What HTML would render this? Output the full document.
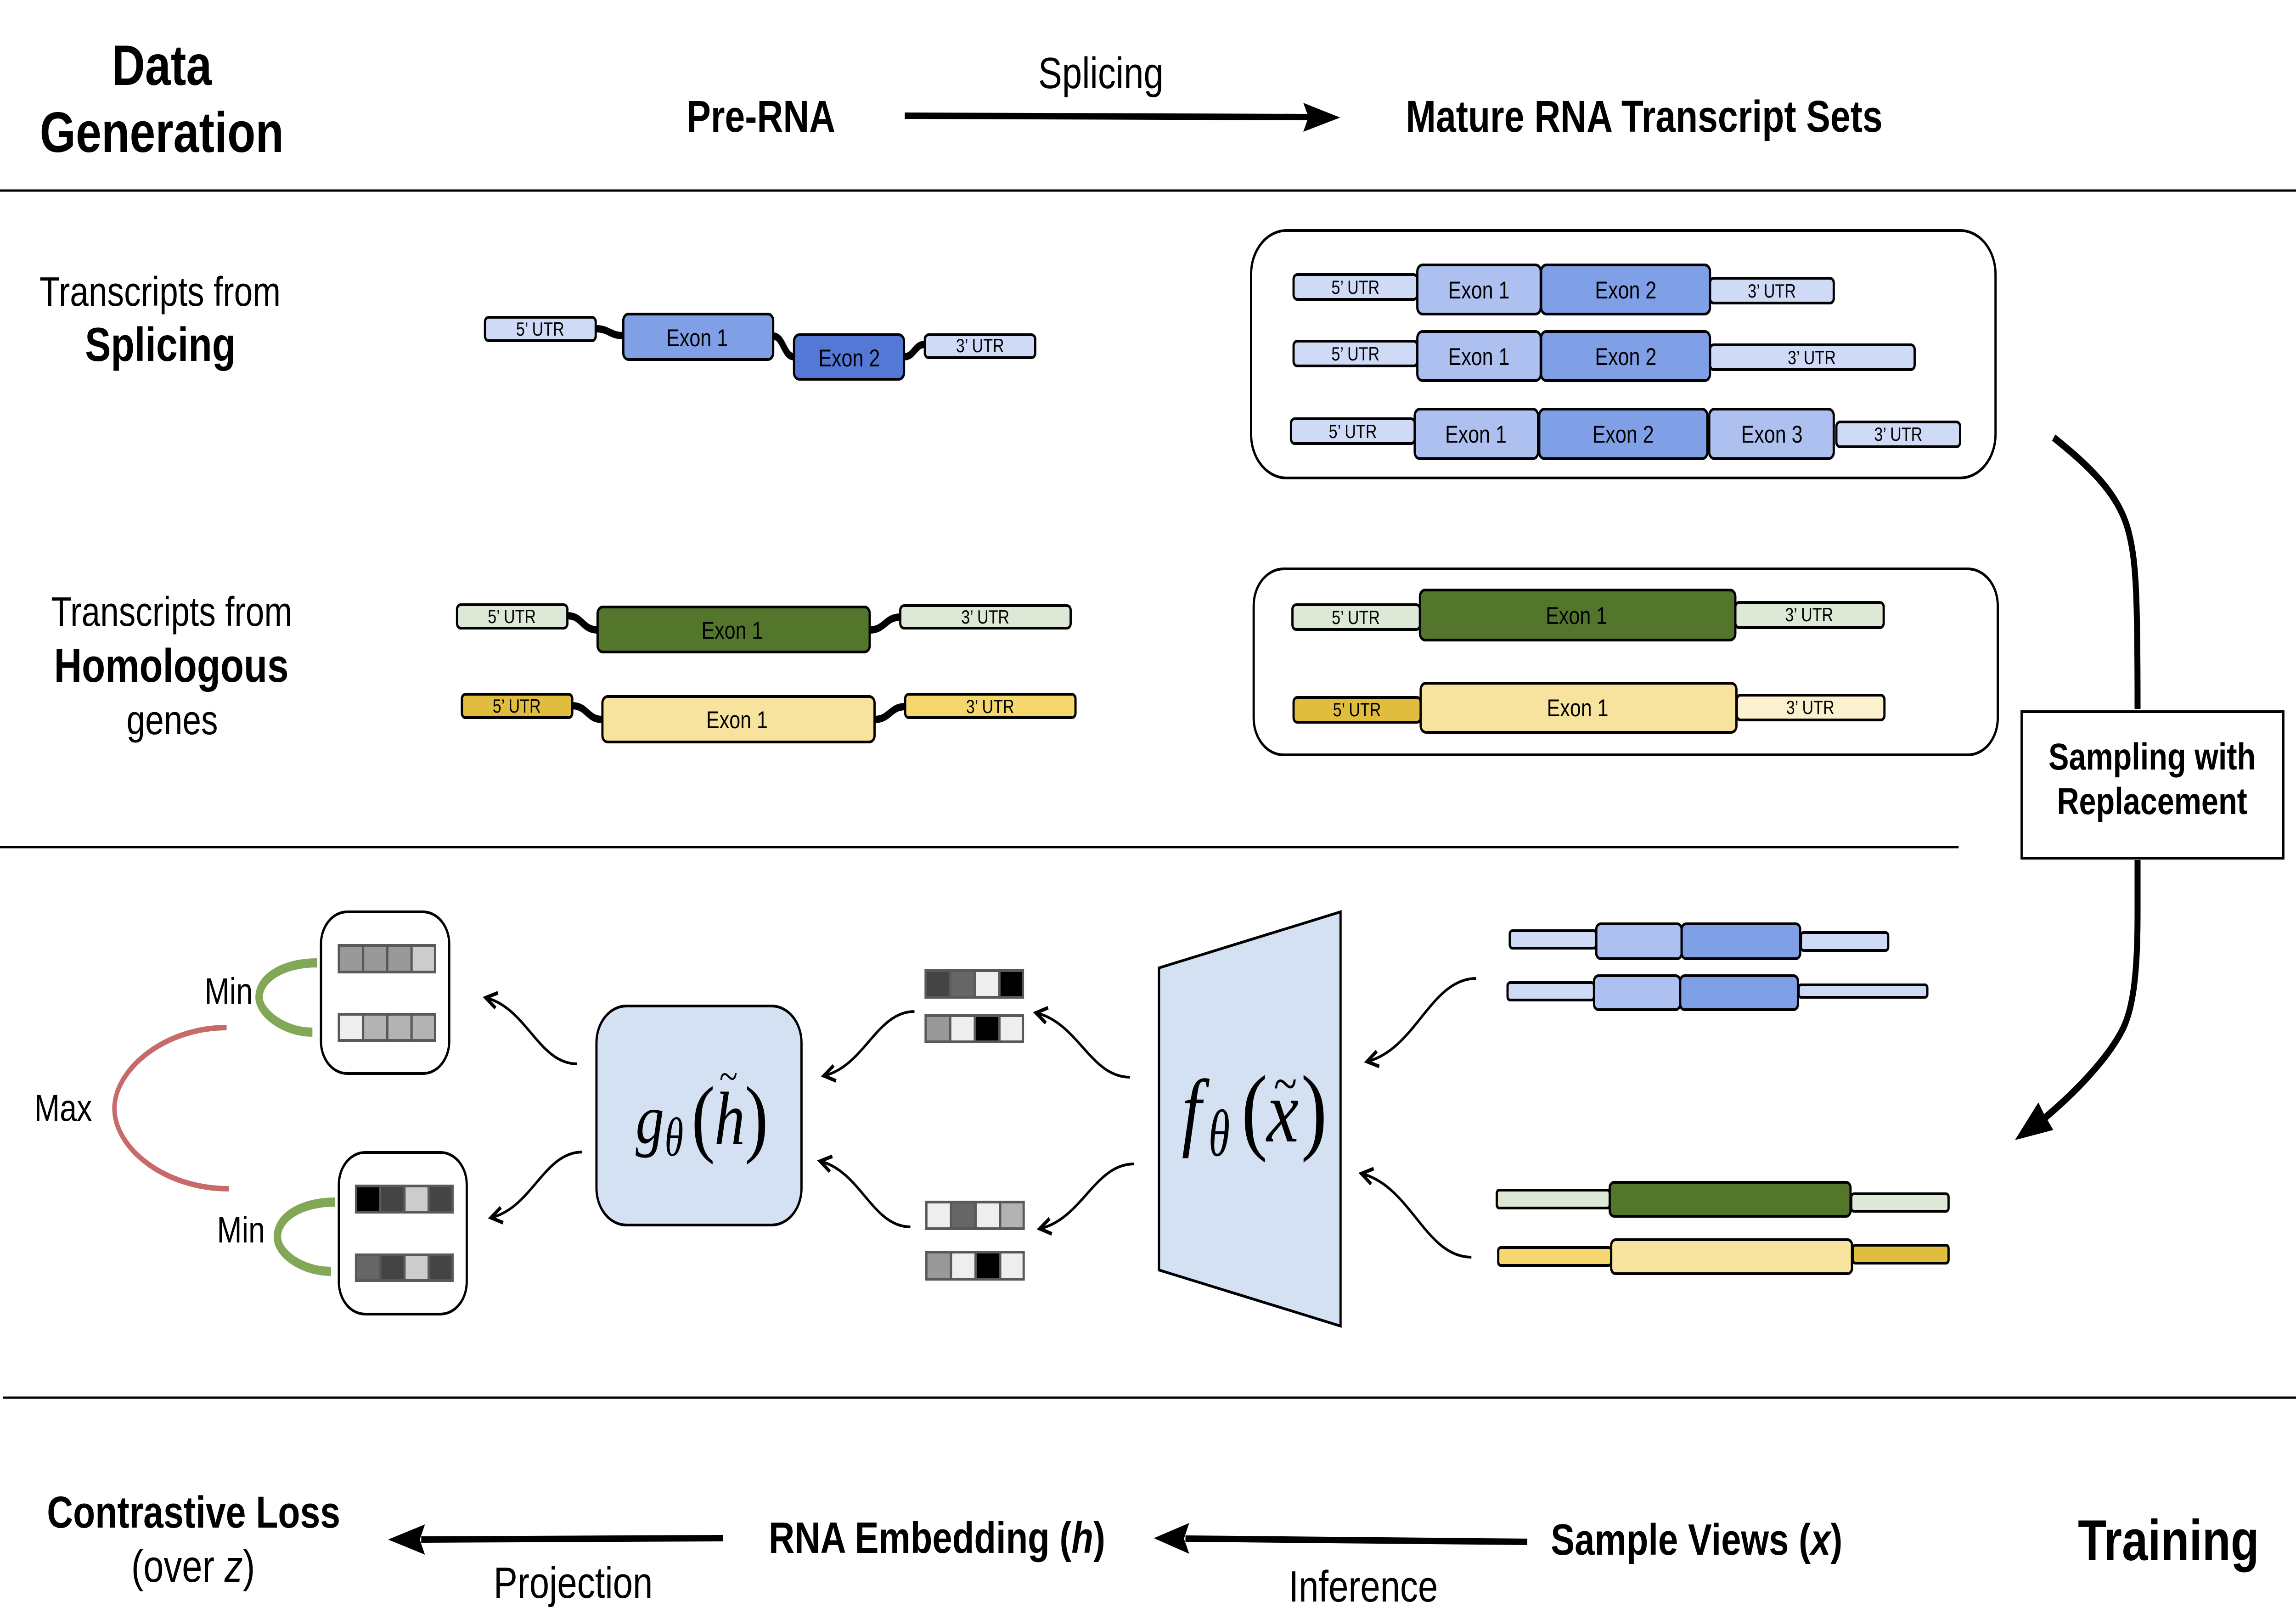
<!DOCTYPE html>
<html><head><meta charset="utf-8"><style>
html,body{margin:0;padding:0;background:#fff;width:100%;height:100%;overflow:hidden}
svg{display:block;width:100vw;height:100vh}
text{font-family:"Liberation Sans",sans-serif;fill:#000}
.b{font-weight:700}
.e{font-size:53px;text-anchor:middle}
.u{font-size:42px;text-anchor:middle}
.m{font-family:"Liberation Serif",serif;font-style:italic}
.p{font-family:"Liberation Serif",serif}
.s rect,rect.s{stroke:#000;stroke-width:6}
.w{fill:none;stroke:#000;stroke-width:16}
.t{fill:none;stroke:#000;stroke-width:6;marker-end:url(#o)}
.c rect{stroke:#595959;stroke-width:6}
.l{stroke:#000;stroke-width:5}
</style></head><body>
<svg viewBox="0 0 6159 3513" preserveAspectRatio="none" xmlns="http://www.w3.org/2000/svg">
<defs><marker id="o" markerUnits="userSpaceOnUse" markerWidth="80" markerHeight="80" viewBox="-60 -40 80 80" refX="0" refY="0" orient="auto"><path d="M-30,-17 L0,0 L-30,17" fill="none" stroke="#000" stroke-width="8"/></marker></defs>
<rect width="6159" height="3513" fill="#fff"/>
<line class="l" x1="0" y1="415" x2="6159" y2="415"/>
<line class="l" x1="0" y1="1845" x2="5254" y2="1845"/>
<line class="l" x1="8" y1="3044" x2="6159" y2="3044"/>

<!-- Header -->
<text class="b" x="434" y="185" font-size="124" text-anchor="middle">Data</text>
<text class="b" x="434" y="331" font-size="124" text-anchor="middle">Generation</text>
<text class="b" x="1842" y="287" font-size="97">Pre-RNA</text>
<text x="2785" y="192" font-size="96">Splicing</text>
<text class="b" x="3771" y="287" font-size="97">Mature RNA Transcript Sets</text>
<path d="M2427 252 L3510 255" stroke="#000" stroke-width="14" fill="none"/>
<polygon points="3595,256 3496,224 3510,255 3496,287"/>

<!-- Left labels -->
<text x="106" y="666" font-size="90">Transcripts from</text>
<text class="b" x="228" y="786" font-size="104">Splicing</text>
<text x="137" y="1363" font-size="90">Transcripts from</text>
<text class="b" x="145" y="1485" font-size="103">Homologous</text>
<text x="462" y="1599" font-size="90" text-anchor="middle">genes</text>

<!-- Splicing gene -->
<path class="w" d="M1598 716 C1635 716 1635 731 1672 731"/>
<path class="w" d="M2074 732 C2102 732 2102 777 2130 777"/>
<path class="w" d="M2425 777 C2453 777 2453 750 2481 750"/>
<g class="s">
<rect x="1301" y="691" width="297" height="51" rx="10" fill="#cfdaf6"/>
<rect x="1672" y="684" width="402" height="99" rx="14" fill="#7f9fe6"/>
<rect x="2130" y="729" width="295" height="97" rx="14" fill="#5478d6"/>
<rect x="2481" y="729" width="296" height="50" rx="10" fill="#cfdaf6"/>
</g>
<text class="u" x="1449" y="731">5’ UTR</text>
<text class="e" x="1870" y="754">Exon 1</text>
<text class="e" x="2278" y="798">Exon 2</text>
<text class="u" x="2629" y="767">3’ UTR</text>

<!-- Homologous genes -->
<path class="w" d="M1522 1341 C1562 1341 1562 1372 1603 1372"/>
<path class="w" d="M2333 1372 C2374 1372 2374 1344 2415 1344"/>
<path class="w" d="M1535 1537 C1575 1537 1575 1567 1616 1567"/>
<path class="w" d="M2346 1567 C2387 1567 2387 1539 2428 1539"/>
<g class="s">
<rect x="1226" y="1317" width="296" height="51" rx="10" fill="#dde8d6"/>
<rect x="1603" y="1322" width="730" height="98" rx="14" fill="#53762c"/>
<rect x="2415" y="1319" width="457" height="49" rx="10" fill="#dde8d6"/>
<rect x="1239" y="1512" width="296" height="51" rx="10" fill="#e1bd3f"/>
<rect x="1616" y="1517" width="730" height="99" rx="14" fill="#f7e39e"/>
<rect x="2428" y="1512" width="457" height="51" rx="10" fill="#f5d76e"/>
</g>
<text class="u" x="1373" y="1357">5’ UTR</text>
<text class="e" x="1964" y="1391">Exon 1</text>
<text class="u" x="2643" y="1358">3’ UTR</text>
<text class="u" x="1386" y="1552">5’ UTR</text>
<text class="e" x="1977" y="1586">Exon 1</text>
<text class="u" x="2656" y="1553">3’ UTR</text>

<!-- Mature box 1 -->
<rect class="s" x="3356" y="502" width="1997" height="539" rx="95" fill="#fff"/>
<g class="s">
<rect x="3470" y="598" width="332" height="54" rx="10" fill="#cfdaf6"/>
<rect x="4587" y="606" width="332" height="54" rx="10" fill="#cfdaf6"/>
<rect x="3802" y="577" width="331" height="107" rx="14" fill="#adc0f0"/>
<rect x="4134" y="577" width="453" height="107" rx="14" fill="#7f9fe6"/>
<rect x="3470" y="743" width="332" height="54" rx="10" fill="#cfdaf6"/>
<rect x="4587" y="751" width="549" height="54" rx="10" fill="#cfdaf6"/>
<rect x="3802" y="722" width="331" height="107" rx="14" fill="#adc0f0"/>
<rect x="4134" y="722" width="453" height="107" rx="14" fill="#7f9fe6"/>
<rect x="3463" y="912" width="332" height="54" rx="10" fill="#cfdaf6"/>
<rect x="4926" y="919" width="332" height="54" rx="10" fill="#cfdaf6"/>
<rect x="3795" y="891" width="331" height="108" rx="14" fill="#adc0f0"/>
<rect x="4129" y="891" width="451" height="108" rx="14" fill="#7f9fe6"/>
<rect x="4585" y="891" width="334" height="108" rx="14" fill="#adc0f0"/>
</g>
<text class="u" x="3636" y="640">5’ UTR</text><text class="e" x="3967" y="650">Exon 1</text><text class="e" x="4361" y="650">Exon 2</text><text class="u" x="4753" y="648">3’ UTR</text>
<text class="u" x="3636" y="785">5’ UTR</text><text class="e" x="3967" y="795">Exon 1</text><text class="e" x="4361" y="795">Exon 2</text><text class="u" x="4860" y="793">3’ UTR</text>
<text class="u" x="3629" y="954">5’ UTR</text><text class="e" x="3959" y="964">Exon 1</text><text class="e" x="4354" y="964">Exon 2</text><text class="e" x="4753" y="964">Exon 3</text><text class="u" x="5092" y="960">3’ UTR</text>

<!-- Mature box 2 -->
<rect class="s" x="3363" y="1239" width="1996" height="405" rx="80" fill="#fff"/>
<g class="s">
<rect x="3467" y="1317" width="342" height="54" rx="10" fill="#dde8d6"/>
<rect x="4655" y="1312" width="398" height="55" rx="10" fill="#dde8d6"/>
<rect x="3809" y="1285" width="846" height="109" rx="14" fill="#53762c"/>
<rect x="3470" y="1519" width="341" height="54" rx="10" fill="#e1bd3f"/>
<rect x="4659" y="1514" width="396" height="54" rx="10" fill="#fbf1cf"/>
<rect x="3811" y="1488" width="847" height="107" rx="14" fill="#f7e39e"/>
</g>
<text class="u" x="3637" y="1359">5’ UTR</text><text class="e" x="4229" y="1359">Exon 1</text><text class="u" x="4853" y="1353">3’ UTR</text>
<text class="u" x="3640" y="1560">5’ UTR</text><text class="e" x="4232" y="1560">Exon 1</text><text class="u" x="4856" y="1555">3’ UTR</text>

<!-- Sampling -->
<path d="M5509 953 C5620 1025 5690 1085 5712 1165 C5730 1225 5734 1300 5734 1544" fill="none" stroke="#000" stroke-width="16"/>
<path d="M5734 1873 L5734 1990 C5734 2120 5722 2195 5695 2240 C5665 2290 5590 2365 5470 2445" fill="none" stroke="#000" stroke-width="16"/>
<polygon points="5405,2483 5468,2401 5484,2428 5508,2461"/>
<rect x="5423" y="1550" width="702" height="319" fill="#fff" stroke="#000" stroke-width="6"/>
<text class="b" x="5773" y="1676" font-size="82" text-anchor="middle">Sampling with</text>
<text class="b" x="5773" y="1773" font-size="82" text-anchor="middle">Replacement</text>

<!-- Views -->
<g class="s">
<rect x="4050" y="2027" width="232" height="38" rx="7" fill="#cfdaf6"/>
<rect x="4831" y="2031" width="234" height="39" rx="7" fill="#cfdaf6"/>
<rect x="4282" y="2012" width="229" height="76" rx="12" fill="#adc0f0"/>
<rect x="4511" y="2012" width="318" height="76" rx="12" fill="#7f9fe6"/>
<rect x="4044" y="2140" width="232" height="38" rx="7" fill="#cfdaf6"/>
<rect x="4825" y="2145" width="345" height="27" rx="6" fill="#cfdaf6"/>
<rect x="4276" y="2125" width="231" height="74" rx="12" fill="#adc0f0"/>
<rect x="4507" y="2125" width="316" height="74" rx="12" fill="#7f9fe6"/>
<rect x="4015" y="2592" width="303" height="39" rx="7" fill="#dde8d6"/>
<rect x="4966" y="2600" width="261" height="38" rx="7" fill="#dde8d6"/>
<rect x="4318" y="2575" width="646" height="74" rx="12" fill="#53762c"/>
<rect x="4019" y="2717" width="303" height="39" rx="7" fill="#f5d76e"/>
<rect x="4970" y="2712" width="257" height="39" rx="7" fill="#e1bd3f"/>
<rect x="4322" y="2700" width="646" height="74" rx="12" fill="#f7e39e"/>
</g>

<!-- f box -->
<polygon points="3109,2108 3596,1986 3596,2888 3109,2766" fill="#d4e1f3" stroke="#000" stroke-width="6"/>
<text class="m" x="3170" y="2482" font-size="190">f</text>
<text class="m" transform="translate(3242,2517) scale(.8,1)" font-size="145">θ</text>
<text class="p" x="3330" y="2487" font-size="210">(</text>
<text class="m" x="3398" y="2486" font-size="193">x</text>
<text class="p" x="3417" y="2399" font-size="115">~</text>
<text class="p" x="3490" y="2487" font-size="210">)</text>

<!-- g box -->
<rect x="1600" y="2191" width="550" height="477" rx="80" fill="#d4e1f3" stroke="#000" stroke-width="6"/>
<text class="m" x="1705" y="2489" font-size="153">g</text>
<text class="m" transform="translate(1783,2517) scale(.85,1)" font-size="120">θ</text>
<text class="p" x="1855" y="2496" font-size="188">(</text>
<text class="m" x="1916" y="2492" font-size="165">h</text>
<text class="p" x="1930" y="2374" font-size="90">~</text>
<text class="p" x="1998" y="2496" font-size="188">)</text>

<!-- Small cells -->
<g class="c">
<rect x="2483" y="2114" width="66" height="58" fill="#444"/><rect x="2549" y="2114" width="66" height="58" fill="#666"/><rect x="2615" y="2114" width="66" height="58" fill="#eee"/><rect x="2681" y="2114" width="63" height="58" fill="#000"/>
<rect x="2483" y="2212" width="66" height="57" fill="#999"/><rect x="2549" y="2212" width="66" height="57" fill="#eee"/><rect x="2615" y="2212" width="66" height="57" fill="#000"/><rect x="2681" y="2212" width="63" height="57" fill="#eee"/>
<rect x="2485" y="2618" width="66" height="58" fill="#eee"/><rect x="2551" y="2618" width="66" height="58" fill="#666"/><rect x="2617" y="2618" width="66" height="58" fill="#eee"/><rect x="2683" y="2618" width="63" height="58" fill="#b3b3b3"/>
<rect x="2485" y="2727" width="66" height="59" fill="#999"/><rect x="2551" y="2727" width="66" height="59" fill="#eee"/><rect x="2617" y="2727" width="66" height="59" fill="#000"/><rect x="2683" y="2727" width="63" height="59" fill="#eee"/>
</g>

<!-- Left output boxes -->
<rect x="861" y="1986" width="344" height="352" rx="70" fill="#fff" stroke="#000" stroke-width="6"/>
<rect x="909" y="2510" width="343" height="352" rx="70" fill="#fff" stroke="#000" stroke-width="6"/>
<g class="c">
<rect x="909" y="2059" width="65" height="58" fill="#999"/><rect x="974" y="2059" width="65" height="58" fill="#999"/><rect x="1039" y="2059" width="65" height="58" fill="#999"/><rect x="1104" y="2059" width="63" height="58" fill="#ccc"/>
<rect x="909" y="2209" width="65" height="57" fill="#eee"/><rect x="974" y="2209" width="65" height="57" fill="#b3b3b3"/><rect x="1039" y="2209" width="65" height="57" fill="#b3b3b3"/><rect x="1104" y="2209" width="63" height="57" fill="#b3b3b3"/>
<rect x="955" y="2583" width="65" height="57" fill="#000"/><rect x="1020" y="2583" width="65" height="57" fill="#444"/><rect x="1085" y="2583" width="65" height="57" fill="#ccc"/><rect x="1150" y="2583" width="64" height="57" fill="#444"/>
<rect x="955" y="2733" width="65" height="56" fill="#666"/><rect x="1020" y="2733" width="65" height="56" fill="#444"/><rect x="1085" y="2733" width="65" height="56" fill="#ccc"/><rect x="1150" y="2733" width="64" height="56" fill="#444"/>
</g>

<!-- Arcs -->
<path d="M850 2097 C760 2097 695 2130 695 2172 C695 2205 760 2248 838 2248" fill="none" stroke="#82a857" stroke-width="20"/>
<path d="M899 2618 C810 2618 744 2650 744 2694 C744 2730 810 2769 888 2769" fill="none" stroke="#82a857" stroke-width="20"/>
<path d="M608 2238 C440 2238 307 2330 307 2414 C307 2500 440 2589 614 2589" fill="none" stroke="#c96a6a" stroke-width="12"/>
<text x="549" y="2186" font-size="80">Min</text>
<text x="582" y="2706" font-size="80">Min</text>
<text x="92" y="2441" font-size="82">Max</text>

<!-- Thin arrows -->
<path class="t" d="M1548 2317 C1445 2317 1413 2195 1303 2173"/>
<path class="t" d="M1562 2509 C1459 2509 1427 2631 1317 2652"/>
<path class="t" d="M3031 2346 C2925 2346 2892 2227 2779 2206"/>
<path class="t" d="M3042 2535 C2936 2535 2903 2655 2789 2676"/>
<path class="t" d="M2453 2203 C2351 2203 2319 2322 2210 2343"/>
<path class="t" d="M2442 2672 C2340 2672 2309 2551 2200 2529"/>
<path class="t" d="M3960 2131 C3837 2131 3799 2285 3667 2312"/>
<path class="t" d="M3947 2738 C3823 2738 3785 2583 3652 2556"/>

<!-- Bottom row -->
<text class="b" x="126" y="3327" font-size="97">Contrastive Loss</text>
<text x="518" y="3445" font-size="98" text-anchor="middle">(over <tspan font-style="italic">z</tspan>)</text>
<text class="b" x="2062" y="3382" font-size="96">RNA Embedding (<tspan font-style="italic">h</tspan>)</text>
<text class="b" x="4160" y="3386" font-size="96">Sample Views (<tspan font-style="italic">x</tspan>)</text>
<text class="b" x="5574" y="3398" font-size="125">Training</text>
<text x="1324" y="3480" font-size="96">Projection</text>
<text x="3457" y="3488" font-size="96">Inference</text>
<path d="M1940 3350 L1130 3353" stroke="#000" stroke-width="14" fill="none"/>
<polygon points="1041,3353 1140,3320 1126,3353 1140,3386"/>
<path d="M4097 3358 L3180 3351" stroke="#000" stroke-width="14" fill="none"/>
<polygon points="3095,3350 3190,3317 3176,3351 3190,3384"/>
</svg>
</body></html>
